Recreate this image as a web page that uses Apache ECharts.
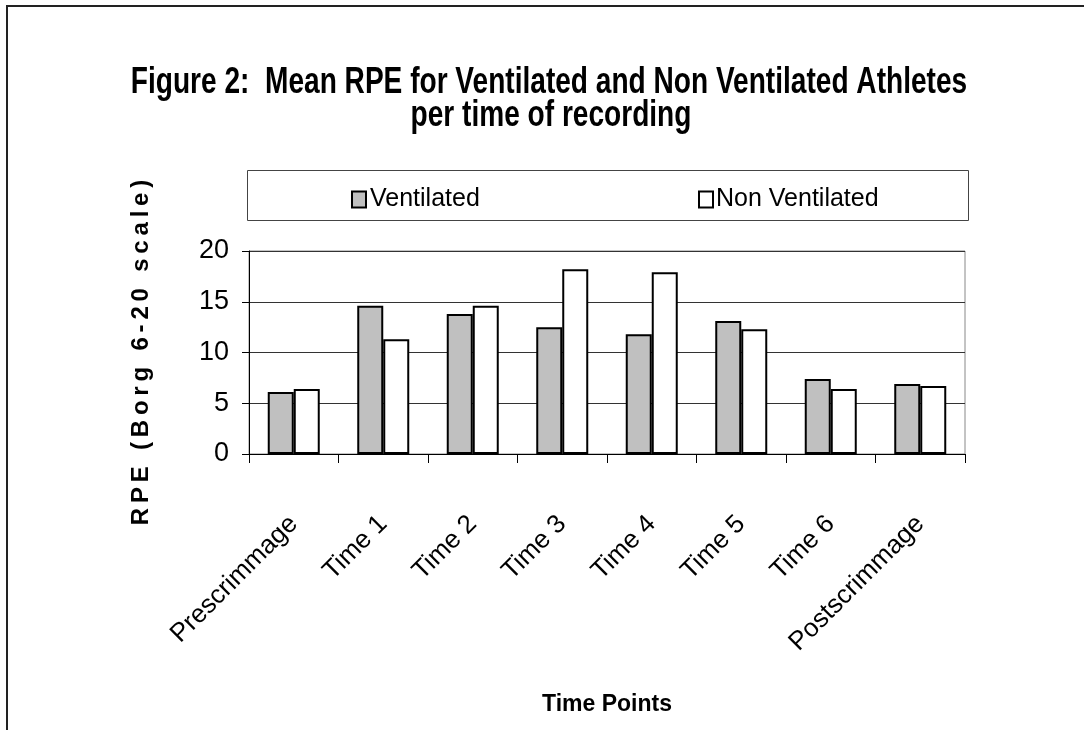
<!DOCTYPE html>
<html>
<head>
<meta charset="utf-8">
<script src="https://cdn.jsdelivr.net/npm/echarts@6/dist/echarts.min.js"></script>
<style>html,body{margin:0;padding:0;background:#fff}#c{width:1084px;height:730px}</style>
</head>
<body>
<div id="c"></div>
<script>
const categories = ['Prescrimmage','Time 1','Time 2','Time 3','Time 4','Time 5','Time 6','Postscrimmage'];
const ventilated = [6.1, 14.6, 13.8, 12.5, 11.8, 13.1, 7.4, 6.9];
const nonVentilated = [6.4, 11.3, 14.6, 18.2, 17.9, 12.3, 6.4, 6.7];
const seriesNames = ['Ventilated', 'Non Ventilated'];
const yTicks = [0, 5, 10, 15, 20];
const titleLines = ['Figure 2:  Mean RPE for Ventilated and Non Ventilated Athletes', 'per time of recording'];
const yName = 'RPE (Borg 6-20 scale)';
const xName = 'Time Points';

const FONT = "'Liberation Sans', Arial, sans-serif";
const spaced = yName.split('').join('\u2009');

const chart = echarts.init(document.getElementById('c'), null, {renderer: 'canvas'});
chart.setOption({
  backgroundColor: '#fff',
  animation: false,
  textStyle: {fontFamily: FONT, color: '#000'},
  graphic: [
    {type: 'polyline', shape: {points: [[7, 730], [7, 6], [1084, 6]]}, style: {stroke: '#222', lineWidth: 2, fill: null}, silent: true},
    {type: 'rect', shape: {x: 247.5, y: 170.5, width: 721, height: 50}, style: {stroke: '#444', lineWidth: 1, fill: null}, z: 0},
    {type: 'text', x: 549, y: 83, scaleX: 0.78, style: {text: titleLines[0], font: "bold 36px " + FONT, fill: '#000', align: 'center', verticalAlign: 'middle'}},
    {type: 'text', x: 551, y: 116, scaleX: 0.78, style: {text: titleLines[1], font: "bold 36px " + FONT, fill: '#000', align: 'center', verticalAlign: 'middle'}}
  ],
  legend: [
    {data: [seriesNames[0]], left: 346, top: 182, itemWidth: 14, itemHeight: 16, itemGap: 0,
     textStyle: {fontSize: 25, fontFamily: FONT, color: '#000', padding: [0, 0, 0, -1]}, icon: 'rect'},
    {data: [seriesNames[1]], left: 693, top: 182, itemWidth: 14, itemHeight: 16, itemGap: 0,
     textStyle: {fontSize: 25, fontFamily: FONT, color: '#000', padding: [0, 0, 0, -2]}, icon: 'rect'}
  ],
  grid: {left: 249, right: 119, top: 251, bottom: 276, show: true, borderColor: '#888', borderWidth: 1, containLabel: false},
  xAxis: {
    type: 'category', data: categories,
    name: xName, nameLocation: 'middle', nameGap: 239,
    nameTextStyle: {fontSize: 23, fontWeight: 'bold', fontFamily: FONT, color: '#000'},
    axisLine: {lineStyle: {color: '#000', width: 1}},
    axisTick: {show: true, length: 9, lineStyle: {color: '#000'}},
    axisLabel: {rotate: 45, fontSize: 26, color: '#000', fontFamily: FONT, margin: 66, interval: 0}
  },
  yAxis: {
    type: 'value', min: yTicks[0], max: yTicks[yTicks.length - 1], interval: 5,
    name: spaced, nameLocation: 'middle', nameGap: 96, nameRotate: 90,
    nameTextStyle: {fontSize: 24, fontWeight: 'bold', fontFamily: FONT, color: '#000'},
    axisLine: {show: true, lineStyle: {color: '#000', width: 1}},
    axisTick: {show: true, length: 7, lineStyle: {color: '#000'}},
    axisLabel: {fontSize: 27, color: '#000', fontFamily: FONT, margin: 20},
    splitLine: {show: true, lineStyle: {color: '#333', width: 1}}
  },
  series: [
    {name: seriesNames[0], type: 'bar', data: ventilated, barWidth: 26, barGap: '0%',
     itemStyle: {color: '#c0c0c0', borderColor: '#000', borderWidth: 2}},
    {name: seriesNames[1], type: 'bar', data: nonVentilated, barWidth: 26, barGap: '0%',
     itemStyle: {color: '#ffffff', borderColor: '#000', borderWidth: 2}}
  ]
});
</script>
</body>
</html>
